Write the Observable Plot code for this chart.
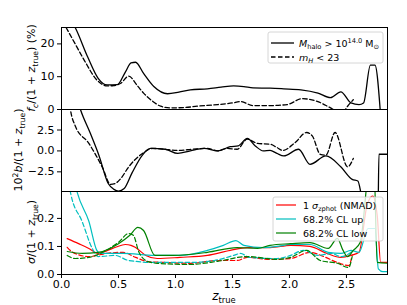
<!DOCTYPE html>
<html><head><meta charset="utf-8">
<script src="https://cdn.jsdelivr.net/npm/d3@7"></script>
<script src="https://cdn.jsdelivr.net/npm/@observablehq/plot@0.6"></script>
<style>
body{margin:0;background:#fff;}
#chart{position:relative;width:407px;height:305px;font-family:"DejaVu Sans";}
#chart svg{position:absolute;left:0;overflow:visible;}
</style></head><body><div id="chart"></div>
<script>
// ---- data ----
const xTicks = [0, 0.5, 1.0, 1.5, 2.0, 2.5];
const fcTicks = [0, 10, 20];
const bTicks = [-2.5, 0, 2.5];
const sigTicks = [0, 0.1, 0.2];

// top panel: f_c/(1+z) (%)
const zFcHalo = [0.05,0.12,0.23,0.32,0.40,0.49,0.56,0.61,0.65,0.72,0.81,0.93,1.03,1.13,1.28,1.40,1.51,1.60,1.68,1.83,1.95,2.10,2.25,2.36,2.45,2.54,2.61,2.65,2.71,2.75,2.80];
const fcHalo  = [29,25,16,9.6,7.5,7.6,11.4,14.2,14.4,11,7,4.8,5.3,6,6.3,6.8,7.2,7,6.6,6.5,6.3,6,5,3.6,5.4,2,1.5,2,13.5,13.5,-2];
const zFcMag  = [0.04,0.12,0.20,0.31,0.40,0.46,0.52,0.59,0.66,0.72,0.80,0.87,0.96,1.08,1.19,1.37,1.50,1.57,1.68,1.83,1.98,2.11,2.25,2.36,2.42,2.48,2.51,2.56];
const fcMag   = [25,20,15,9,7.2,7.3,8,10.2,7.5,5,2.5,1,0.5,0.6,1,1.5,2,2.4,1.2,1.2,1.5,3.3,2.4,0.5,-0.5,-0.3,1,3];

// middle panel: 10^2 b/(1+z)
const zBHalo = [0.12,0.17,0.25,0.33,0.41,0.46,0.50,0.55,0.62,0.71,0.78,0.91,1.02,1.13,1.25,1.37,1.48,1.55,1.63,1.70,1.77,1.83,1.89,1.95,2.08,2.18,2.32,2.45,2.55,2.60,2.63,2.70,2.775,2.785,2.86];
const bHalo  = [7,4.8,2.2,-0.6,-3.9,-4.6,-4.8,-4.5,-2.6,-0.5,0.3,0.2,-0.3,0,0.3,0,0.5,0.6,1.5,0.6,0,0.06,-0.3,-0.6,0.2,-1.6,-0.6,-1.9,-3.4,-3.6,-5.2,-9,-9,-0.4,-0.4];
const zBMag  = [0.05,0.08,0.12,0.24,0.36,0.43,0.47,0.52,0.59,0.71,0.80,0.90,1.02,1.15,1.28,1.37,1.45,1.54,1.63,1.72,1.83,1.89,1.94,2.05,2.15,2.20,2.27,2.32,2.40,2.51,2.56];
const bMag   = [8,4.8,3,0.9,-2,-4,-3.9,-3.3,-1.9,-0.3,0.3,0.2,0.06,0.2,0.3,0,0.3,0.2,1.4,0.9,0.8,0.4,0.06,1,2.2,1.8,-0.4,-0.5,2.2,-1.9,-0.9];

// bottom panel: sigma/(1+z)
const zNmadHalo = [0.05,0.15,0.24,0.32,0.40,0.48,0.56,0.61,0.65,0.74,0.84,1.04,1.28,1.48,1.63,1.83,2.01,2.18,2.33,2.45,2.54,2.61,2.68,2.73,2.77,2.80,2.86];
const nmadHalo  = [0.128,0.11,0.093,0.075,0.085,0.098,0.107,0.104,0.096,0.068,0.057,0.061,0.068,0.086,0.096,0.096,0.104,0.1,0.075,0.061,0.068,0.079,0.246,0.28,0.21,0.043,0.043];
const zNmadMag  = [0.05,0.10,0.24,0.39,0.54,0.65,0.76,0.91,1.13,1.37,1.54,1.63,1.83,2.01,2.18,2.30,2.42,2.52,2.55];
const nmadMag   = [0.097,0.079,0.064,0.075,0.079,0.061,0.046,0.043,0.04,0.05,0.05,0.061,0.054,0.057,0.079,0.064,0.043,0.032,0.07];
const zUpHalo = [0.10,0.14,0.24,0.31,0.34,0.54,0.82,1.04,1.28,1.42,1.53,1.60,1.77,1.89,2.01,2.18,2.34,2.45,2.54,2.61,2.69,2.75,2.78,2.82,2.86];
const upHalo  = [0.36,0.29,0.19,0.086,0.075,0.075,0.068,0.068,0.086,0.104,0.121,0.104,0.096,0.1,0.107,0.107,0.079,0.075,0.086,0.079,0.164,0.164,0.02,0.01,0.01];
const zUpMag  = [0.05,0.08,0.18,0.27,0.32,0.47,0.59,0.82,1.13,1.34,1.51,1.57,1.65,1.89,2.01,2.12,2.25,2.37,2.45,2.54,2.56];
const upMag   = [0.4,0.29,0.19,0.093,0.064,0.068,0.05,0.043,0.043,0.05,0.068,0.075,0.061,0.057,0.068,0.086,0.068,0.075,0.064,0.079,0.086];
const zLowHalo = [0.05,0.18,0.32,0.50,0.60,0.67,0.72,0.82,0.98,1.28,1.54,1.72,1.83,2.01,2.18,2.34,2.42,2.47,2.51,2.56,2.62,2.71,2.74,2.77,2.86];
const lowHalo  = [0.082,0.075,0.079,0.11,0.14,0.168,0.157,0.068,0.068,0.079,0.096,0.093,0.104,0.11,0.114,0.093,0.129,0.086,0.064,0.086,0.114,0.4,0.4,0.043,0.04];
const zLowMag  = [0.05,0.12,0.24,0.39,0.50,0.59,0.63,0.68,0.76,0.84,1.13,1.37,1.63,1.89,2.01,2.15,2.27,2.42,2.52,2.55];
const lowMag   = [0.068,0.057,0.061,0.086,0.115,0.146,0.14,0.079,0.046,0.04,0.036,0.047,0.064,0.054,0.061,0.086,0.05,0.04,0.025,0.064];

// ---- drawing ----
const rows = (z, v) => z.map((d, i) => ({z: d, v: v[i]}));
const style = {fontFamily: "DejaVu Sans", fontSize: "11px", background: "transparent", overflow: "visible", color: "black"};
const xDomain = [0, 2.86];
const DASH = "4.5,2.5";
const RED = "#ff0000", CYAN = "#00bfbf", GREEN = "#008000";
const line = (z, v, stroke, dash, w) => Plot.line(rows(z, v), {x: "z", y: "v", stroke, strokeWidth: w, strokeDasharray: dash ? DASH : null, curve: "monotone-x", clip: true});

const p1 = Plot.plot({
  width: 407, height: 110, marginLeft: 61, marginRight: 20, marginTop: 27, marginBottom: 1, style,
  x: {domain: xDomain, axis: null},
  y: {domain: [0, 25], ticks: fcTicks, tickSize: 4, tickPadding: 3, label: null, tickFormat: d3.format("d")},
  marks: [
    line(zFcHalo, fcHalo, "black", false, 1.3),
    line(zFcMag, fcMag, "black", true, 1.3),
    Plot.frame({stroke: "black"})
  ]
});
const p2 = Plot.plot({
  width: 407, height: 100, marginLeft: 61, marginRight: 20, marginTop: 9, marginBottom: 9, style,
  x: {domain: xDomain, axis: null},
  y: {domain: [-4.85, 4.95], ticks: bTicks, tickSize: 4, tickPadding: 3, label: null, tickFormat: d3.format(".1f")},
  marks: [
    line(zBHalo, bHalo, "black", false, 1.3),
    line(zBMag, bMag, "black", true, 1.3),
    Plot.frame({stroke: "black"})
  ]
});
const p3 = Plot.plot({
  width: 407, height: 120, marginLeft: 61, marginRight: 20, marginTop: 6, marginBottom: 31, style,
  x: {domain: xDomain, ticks: xTicks, tickSize: 4, tickPadding: 2, label: null, tickFormat: d3.format(".1f")},
  y: {domain: [0, 0.296], ticks: sigTicks, tickSize: 4, tickPadding: 3, label: null, tickFormat: d3.format(".1f")},
  marks: [
    line(zNmadHalo, nmadHalo, RED, false, 1.2),
    line(zNmadMag, nmadMag, RED, true, 1.2),
    line(zUpHalo, upHalo, CYAN, false, 1.2),
    line(zUpMag, upMag, CYAN, true, 1.2),
    line(zLowHalo, lowHalo, GREEN, false, 1.2),
    line(zLowMag, lowMag, GREEN, true, 1.2),
    Plot.frame({stroke: "black"})
  ]
});
const chart = document.getElementById("chart");
[[p1, 0], [p2, 100], [p3, 185]].forEach(([p, t]) => { p.style.top = t + "px"; chart.appendChild(p); });

// ---- labels & legends overlay ----
const ov = d3.select(chart).append("svg").attr("width", 407).attr("height", 305)
  .style("top", "0px").style("font-family", "DejaVu Sans");

function rich(g, parts, size, anchor) {
  const t = g.append("text").attr("text-anchor", anchor || "start").attr("font-size", size).attr("fill", "black");
  let cur = 0;
  parts.forEach(p => {
    const off = p.sub ? size * 0.25 : p.sup ? -size * 0.38 : 0;
    t.append("tspan").text(p.t)
      .attr("dy", (off - cur).toFixed(2))
      .attr("font-size", (p.sub || p.sup) ? size * 0.7 : size)
      .attr("font-style", p.i ? "italic" : "normal");
    cur = off;
  });
  return t;
}
const ztrue = [{t: "z", i: 1}, {t: "true", sub: 1}];
rich(ov.append("g").attr("transform", "translate(35,68) rotate(-90)"),
  [{t: "f", i: 1}, {t: "c", i: 1, sub: 1}, {t: "/(1 + "}, ...ztrue, {t: ") (%)"}], 11, "middle");
rich(ov.append("g").attr("transform", "translate(22,150) rotate(-90)"),
  [{t: "10"}, {t: "2", sup: 1}, {t: "b", i: 1}, {t: "/(1 + "}, ...ztrue, {t: ")"}], 11, "middle");
rich(ov.append("g").attr("transform", "translate(35,232) rotate(-90)"),
  [{t: "σ", i: 1}, {t: "/(1 + "}, ...ztrue, {t: ")"}], 11, "middle");
rich(ov.append("g").attr("transform", "translate(224,300)"), ztrue, 12, "middle");

function legend(x, y, w, h, items, lx0, lx1, tx) {
  ov.append("rect").attr("x", x).attr("y", y).attr("width", w).attr("height", h).attr("rx", 2)
    .attr("fill", "white").attr("fill-opacity", 0.8).attr("stroke", "#cccccc").attr("stroke-width", 0.8);
  items.forEach(it => {
    ov.append("line").attr("x1", lx0).attr("x2", lx1).attr("y1", it.y).attr("y2", it.y)
      .attr("stroke", it.c).attr("stroke-width", it.w).attr("stroke-dasharray", it.dash ? DASH : null);
    rich(ov.append("g").attr("transform", `translate(${tx},${it.y + 3.5})`), it.parts, 9.5);
  });
}
legend(268, 32, 115, 31, [
  {y: 43, c: "black", w: 1.3, parts: [{t: "M", i: 1}, {t: "halo", sub: 1}, {t: " > 10"}, {t: "14.0", sup: 1}, {t: " M"}, {t: "⊙", sub: 1}]},
  {y: 57, c: "black", w: 1.3, dash: true, parts: [{t: "m", i: 1}, {t: "H", i: 1, sub: 1}, {t: " < 23"}]}
], 271, 294, 299);
legend(273, 197, 110, 44, [
  {y: 205, c: RED, w: 1.2, parts: [{t: "1 "}, {t: "σ", i: 1}, {t: "zphot", sub: 1}, {t: " (NMAD)"}]},
  {y: 219, c: CYAN, w: 1.2, parts: [{t: "68.2% CL up"}]},
  {y: 233, c: GREEN, w: 1.2, parts: [{t: "68.2% CL low"}]}
], 276, 296, 303);
</script></body></html>
